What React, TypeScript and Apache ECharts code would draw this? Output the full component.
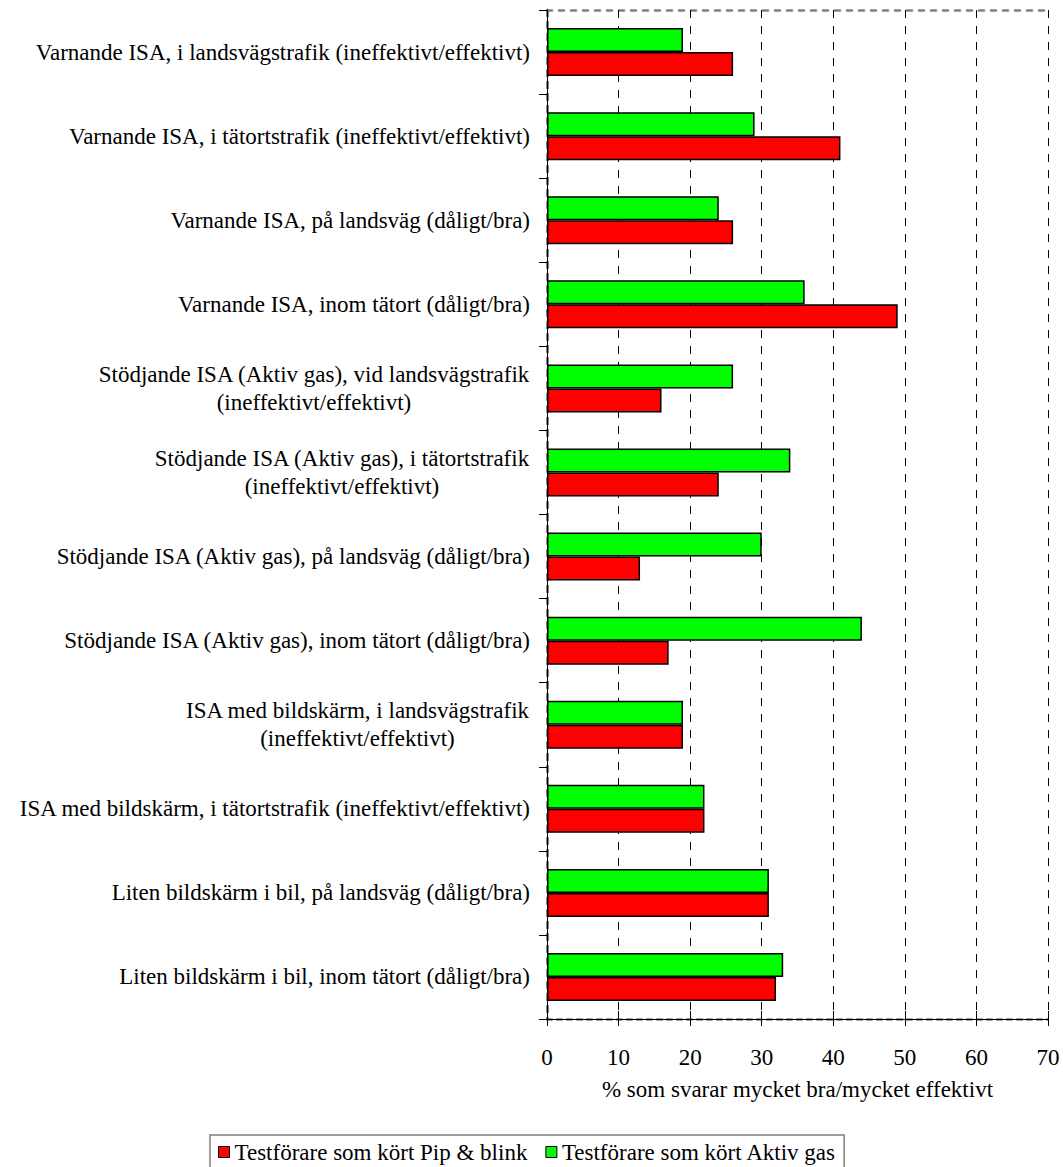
import React, { useEffect, useRef } from 'react';
import * as echarts from 'echarts';

const categories = [
  'Varnande ISA, i landsvägstrafik (ineffektivt/effektivt)',
  'Varnande ISA, i tätortstrafik (ineffektivt/effektivt)',
  'Varnande ISA, på landsväg (dåligt/bra)',
  'Varnande ISA, inom tätort (dåligt/bra)',
  'Stödjande ISA (Aktiv gas), vid landsvägstrafik\n(ineffektivt/effektivt)',
  'Stödjande ISA (Aktiv gas), i tätortstrafik\n(ineffektivt/effektivt)',
  'Stödjande ISA (Aktiv gas), på landsväg (dåligt/bra)',
  'Stödjande ISA (Aktiv gas), inom tätort (dåligt/bra)',
  'ISA med bildskärm, i landsvägstrafik\n(ineffektivt/effektivt)',
  'ISA med bildskärm, i tätortstrafik (ineffektivt/effektivt)',
  'Liten bildskärm i bil, på landsväg (dåligt/bra)',
  'Liten bildskärm i bil, inom tätort (dåligt/bra)',
];

const seriesPipName = 'Testförare som kört Pip & blink';
const seriesAktivName = 'Testförare som kört Aktiv gas';

const pipBlink = [26, 41, 26, 49, 16, 24, 13, 17, 19, 22, 31, 32];
const aktivGas = [19, 29, 24, 36, 26, 34, 30, 44, 19, 22, 31, 33];

const xTicks = [0, 10, 20, 30, 40, 50, 60, 70];
const xAxisName = '% som svarar mycket bra/mycket effektivt';

const FONT = '"Liberation Serif", "Times New Roman", serif';
const FS = 23;

export default function App() {
  const ref = useRef<HTMLDivElement>(null);

  useEffect(() => {
    if (!ref.current) return;
    const chart = echarts.init(ref.current, undefined, { renderer: 'svg' });

    // Build rich styles so that wrapped labels are centred within their own block
    const canvas = document.createElement('canvas');
    const ctx = canvas.getContext('2d')!;
    ctx.font = `${FS}px ${FONT}`;
    const rich: Record<string, any> = {};
    categories.forEach((c, i) => {
      if (c.includes('\n')) {
        const w = Math.max(...c.split('\n').map((l) => ctx.measureText(l).width));
        rich['m' + i] = {
          width: Math.ceil(w),
          align: 'center',
          fontSize: FS,
          fontFamily: FONT,
          color: '#000',
          lineHeight: 28,
        };
      }
    });

    const xMin = xTicks[0];
    const xMax = xTicks[xTicks.length - 1];
    const xInterval = xTicks[1] - xTicks[0];

    chart.setOption({
      animation: false,
      backgroundColor: '#fff',
      textStyle: { fontFamily: FONT },
      grid: { left: 547, right: 15, top: 10, bottom: 148, containLabel: false },
      legend: {
        data: [seriesPipName, seriesAktivName],
        left: 210,
        top: 1135,
        orient: 'horizontal',
        icon: 'rect',
        itemWidth: 11,
        itemHeight: 11,
        itemGap: 18,
        padding: [5, 8, 5, 8],
        borderColor: '#808080',
        borderWidth: 1.5,
        textStyle: { fontSize: FS, fontFamily: FONT, color: '#000', lineHeight: 24 },
        itemStyle: { borderColor: '#000', borderWidth: 1 },
      },
      xAxis: [
        {
          type: 'value',
          min: xMin,
          max: xMax,
          interval: xInterval,
          position: 'bottom',
          z: 3,
          axisLine: { show: true, lineStyle: { color: '#000', width: 1 } },
          axisTick: { show: true, length: 7, lineStyle: { color: '#000', width: 1 } },
          axisLabel: { fontSize: FS, fontFamily: FONT, color: '#000', margin: 27 },
          splitLine: { show: true, lineStyle: { color: '#000', width: 1, type: [8, 8] } },
          name: xAxisName,
          nameLocation: 'middle',
          nameGap: 59,
          nameTextStyle: { fontSize: FS, fontFamily: FONT, color: '#000' },
        },
        {
          type: 'value',
          min: xMin,
          max: xMax,
          interval: xInterval,
          position: 'bottom',
          z: 2,
          axisLine: { show: true, lineStyle: { color: '#808080', width: 2.5, type: [5, 5] } },
          axisTick: { show: true, inside: true, length: 8, lineStyle: { color: '#000', width: 1 } },
          axisLabel: { show: false },
          splitLine: { show: false },
        },
        {
          type: 'value',
          min: xMin,
          max: xMax,
          interval: xInterval,
          position: 'top',
          axisLine: { show: true, lineStyle: { color: '#808080', width: 2.5, type: [5, 7] } },
          axisTick: { show: false },
          axisLabel: { show: false },
          splitLine: { show: false },
        },
      ],
      yAxis: [
        {
          type: 'category',
          data: categories,
          inverse: true,
          position: 'left',
          z: 3,
          axisLine: { show: true, lineStyle: { color: '#000', width: 1 } },
          axisTick: { show: true, length: 8, interval: 0, lineStyle: { color: '#000', width: 1 } },
          axisLabel: {
            interval: 0,
            margin: 17,
            fontSize: FS,
            fontFamily: FONT,
            color: '#000',
            lineHeight: 28,
            formatter: (value: string) => {
              const i = categories.indexOf(value);
              if (i >= 0 && rich['m' + i]) {
                return value
                  .split('\n')
                  .map((l) => `{m${i}|${l}}`)
                  .join('\n');
              }
              return value;
            },
            rich,
          },
          splitLine: { show: false },
        },
        {
          type: 'category',
          data: categories,
          inverse: true,
          position: 'right',
          axisLine: { show: true, lineStyle: { color: '#808080', width: 2.5, type: [6, 6] } },
          axisTick: { show: false },
          axisLabel: { show: false },
          splitLine: { show: false },
        },
        {
          type: 'category',
          data: categories,
          inverse: true,
          position: 'left',
          z: 1,
          axisLine: { show: true, lineStyle: { color: '#808080', width: 2.5, type: [6, 6] } },
          axisTick: { show: false },
          axisLabel: { show: false },
          splitLine: { show: false },
        },
      ],
      series: [
        {
          name: seriesAktivName,
          type: 'bar',
          xAxisIndex: 0,
          yAxisIndex: 0,
          data: aktivGas,
          barWidth: 24,
          barGap: '0%',
          itemStyle: { color: '#00ff00', borderColor: '#000', borderWidth: 1.5 },
          z: 4,
        },
        {
          name: seriesPipName,
          type: 'bar',
          xAxisIndex: 0,
          yAxisIndex: 0,
          data: pipBlink,
          barWidth: 24,
          barGap: '0%',
          itemStyle: { color: '#ff0000', borderColor: '#000', borderWidth: 1.5 },
          z: 4,
        },
      ],
    });

    return () => chart.dispose();
  }, []);

  return (
    <div
      ref={ref}
      style={{ position: 'absolute', left: 0, top: 0, width: 1063, height: 1167 }}
    />
  );
}
